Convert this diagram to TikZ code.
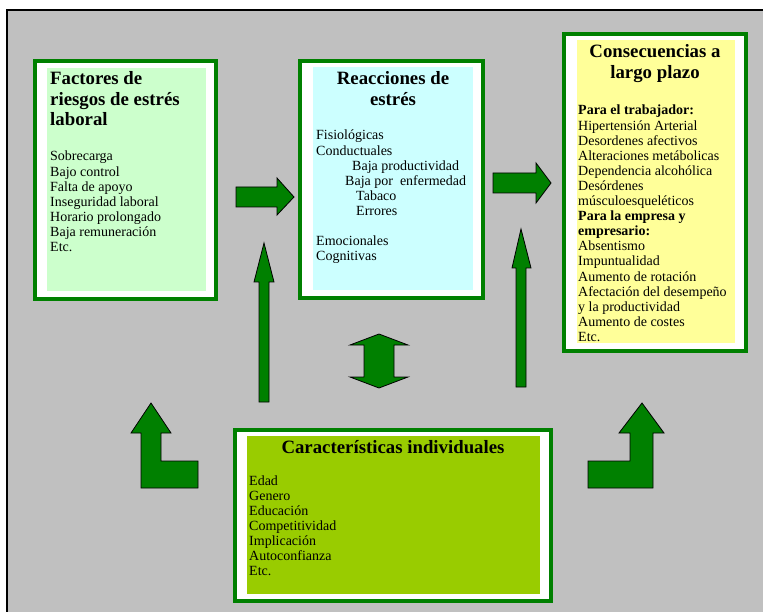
\documentclass[tikz,border=0pt]{standalone}
\usepackage{fontspec}
\setmainfont{Liberation Serif}
\definecolor{bg}{HTML}{C0C0C0}
\definecolor{gr}{HTML}{008000}
\definecolor{fa}{HTML}{CCFFCC}
\definecolor{fb}{HTML}{CCFFFF}
\definecolor{fc}{HTML}{FFFF99}
\definecolor{fd}{HTML}{99CC00}
\begin{document}
\begin{tikzpicture}[x=1pt,y=-1pt,
  outerbox/.style={draw=gr, line width=4pt, fill=white},
  blockarrow/.style={fill=gr, draw=black, line width=0.8pt, line join=miter},
  ttl/.style={font=\fontsize{18.8}{20.5}\selectfont\bfseries, inner sep=0pt, anchor=base},
  ttlw/.style={font=\fontsize{18.8}{20.5}\selectfont\bfseries, inner sep=0pt, anchor=base west},
  body/.style={font=\fontsize{14}{15.1}\selectfont, inner sep=0pt, anchor=base west}]
\useasboundingbox (0,0) rectangle (763,612);
\fill[white] (0,0) rectangle (763,612);
\draw[line width=2pt, fill=bg] (7,10) rectangle (800,650);

% boxes
\draw[outerbox] (35,61) rectangle (216,299);
\fill[fa] (47,68) rectangle (206,291);
\draw[outerbox] (300,61) rectangle (483,298);
\fill[fb] (313,67) rectangle (473,290);
\draw[outerbox] (564,34) rectangle (746,351);
\fill[fc] (577,40) rectangle (735,343);
\draw[outerbox] (235,430) rectangle (551,601);
\fill[fd] (247,436) rectangle (540,594);

% box 1
\node[ttlw] (t1a) at (50,85) {Factores de};
\node[ttlw] (t1b) at (50,105.5) {riesgos de estrés};
\node[ttlw] (t1c) at (50,126) {laboral};
\foreach \t [count=\i] in {Sobrecarga,Bajo control,Falta de apoyo,Inseguridad laboral,Horario prolongado,Baja remuneración,Etc.}
  \node[body] (a\i) at (50,{161+15.1*(\i-1)}) {\t};

% box 2
\node[ttl] (t2a) at (393,85) {Reacciones de};
\node[ttl] (t2b) at (393,105.5) {estrés};
\node[body] (b1) at (316,140) {Fisiológicas};
\node[body] (b2) at (316,155.1) {Conductuales};
\node[body] (b3) at (352,170.2) {Baja productividad};
\node[body] (b4) at (345,185.3) {Baja por \ enfermedad};
\node[body] (b5) at (356,200.4) {Tabaco};
\node[body] (b6) at (356,215.5) {Errores};
\node[body] (b7) at (316,245.7) {Emocionales};
\node[body] (b8) at (316,260.8) {Cognitivas};

% box 3
\node[ttl] (t3a) at (655,58) {Consecuencias a};
\node[ttl] (t3b) at (655,78.5) {largo plazo};
\foreach \t [count=\i] in {\textbf{Para el trabajador:},Hipertensión Arterial,Desordenes afectivos,Alteraciones metábolicas,Dependencia alcohólica,Desórdenes,músculoesqueléticos,\textbf{Para la empresa y},\textbf{empresario:},Absentismo,Impuntualidad,Aumento de rotación,Afectación del desempeño,y la productividad,Aumento de costes,Etc.}
  \node[body] (c\i) at (578,{115+15.1*(\i-1)}) {\t};

% box 4
\node[ttl] (t4) at (393,453) {Características individuales};
\foreach \t [count=\i] in {Edad,Genero,Educación,Competitividad,Implicación,Autoconfianza,Etc.}
  \node[body] (d\i) at (249,{485+15.1*(\i-1)}) {\t};

% arrows
\draw[blockarrow] (236,187) -- (277,187) -- (277,178) -- (294,197) -- (277,215) -- (277,207) -- (236,207) -- cycle;
\draw[blockarrow] (493,173) -- (536,173) -- (536,163) -- (551,183) -- (536,203) -- (536,193) -- (493,193) -- cycle;
\draw[blockarrow] (259,402) -- (259,282) -- (254,282) -- (264,243) -- (274,282) -- (269,282) -- (269,402) -- cycle;
\draw[blockarrow] (516,387) -- (516,268) -- (512,268) -- (521,229) -- (531,268) -- (526,268) -- (526,387) -- cycle;
\draw[blockarrow] (379,334) -- (408,345) -- (394,345) -- (394,377) -- (408,377) -- (379,388) -- (350,377) -- (364,377) -- (364,345) -- (350,345) -- cycle;
\draw[blockarrow] (141,488) -- (141,433) -- (131,433) -- (151,403) -- (171,433) -- (161,433) -- (161,461) -- (198,461) -- (198,488) -- cycle;
\draw[blockarrow] (653,488) -- (653,433) -- (664,433) -- (642,403) -- (619,433) -- (630,433) -- (630,461) -- (588,461) -- (588,488) -- cycle;
\end{tikzpicture}
\end{document}
